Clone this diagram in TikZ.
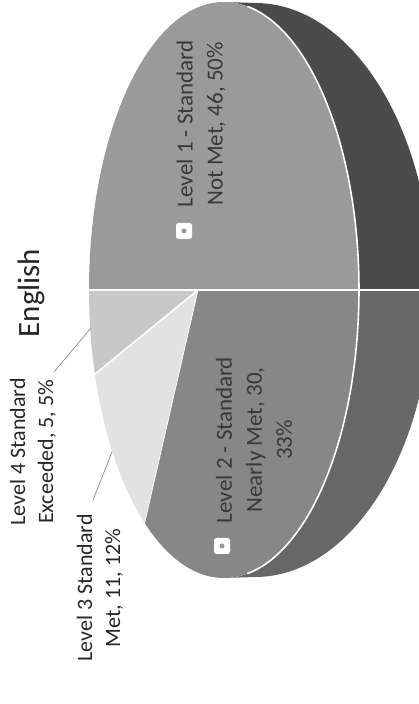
\documentclass[tikz,border=0pt]{standalone}
\usepackage{fontspec}
\setmainfont{Carlito}
\definecolor{faceA}{HTML}{9A9A9A}
\definecolor{faceB}{HTML}{878787}
\definecolor{faceC}{HTML}{E2E2E2}
\definecolor{faceD}{HTML}{C8C8C8}
\definecolor{sideA}{HTML}{4B4B4B}
\definecolor{sideB}{HTML}{676767}
\definecolor{labtext}{HTML}{383838}
\definecolor{outtext}{HTML}{262626}
\definecolor{leadcol}{HTML}{8C8C8C}
\tikzset{
  inlab/.style={rotate=90,align=center,text=labtext,font=\fontsize{23}{30}\selectfont,inner sep=0pt},
  outlab/.style={rotate=90,align=center,text=outtext,font=\fontsize{22}{28}\selectfont,inner sep=0pt},
  titlelab/.style={rotate=90,text=outtext,font=\fontsize{31}{34}\selectfont,inner sep=0pt},
  keybox/.style={fill=white,rounded corners=2.5pt,minimum size=16pt,inner sep=0pt,
    path picture={\fill[gray!80] ([shift={(-2.5pt,-2.5pt)}]path picture bounding box.center) rectangle ++(5pt,5pt);}},
  sep/.style={white,line width=1.6pt},
  leader/.style={leadcol,line width=0.7pt}
}
\begin{document}
\begin{tikzpicture}[x=1pt,y=1pt]
\useasboundingbox (0,0) rectangle (419,704);
% key points
\coordinate (A) at (198,414);
\coordinate (P0) at (359,414);
\coordinate (P180) at (89,414);
\coordinate (P197) at (94.9,329.8);
\coordinate (P234) at (144.6,181);
\coordinate (T) at (224,702);
\coordinate (B) at (224,126);
\coordinate (OT) at (255,701);
\coordinate (OR) at (432,414);
\coordinate (R80) at (247.4,697.6);
% side (depth)
\begin{scope}
  \clip (0,414) rectangle (440,710);
  \fill[sideA] (OT) arc[start angle=90,end angle=-90,x radius=177,y radius=287] -- (B)
     arc[start angle=-90,end angle=90,x radius=135,y radius=288] -- cycle;
\end{scope}
\begin{scope}
  \clip (0,0) rectangle (440,414);
  \fill[sideB] (OT) arc[start angle=90,end angle=-90,x radius=177,y radius=287] -- (B)
     arc[start angle=-90,end angle=90,x radius=135,y radius=288] -- cycle;
\end{scope}
% faces
\fill[faceA] (A) -- (P0) arc[start angle=0,end angle=180,x radius=135,y radius=288] -- cycle;
\fill[faceD] (A) -- (P180) arc[start angle=180,end angle=197,x radius=135,y radius=288] -- cycle;
\fill[faceC] (A) -- (P197) arc[start angle=197,end angle=234,x radius=135,y radius=288] -- cycle;
\fill[faceB] (A) -- (P234) arc[start angle=234,end angle=360,x radius=135,y radius=288] -- cycle;
% separators
\draw[sep] (R80) arc[start angle=80,end angle=-80,x radius=135,y radius=288];
\draw[sep] (P180) -- (A) -- (P0) -- (OR);
\draw[sep] (A) -- (P197);
\draw[sep,line width=0.8pt] (A) -- (P234);
% keys and inner labels
\node[keybox] (k1) at (184,473) {};
\node[inlab] (l1) at (201,580) {Level 1 - Standard\\Not Met, 46, 50\%};
\node[keybox] (k2) at (222,158) {};
\node[inlab] (l2) at (254,264) {Level 2 - Standard\\Nearly Met, 30,\\33\%};
% title
\node[titlelab] (title) at (31,411) {English};
% outer labels
\node[outlab] (l4) at (33,252) {Level 4 Standard\\Exceeded, 5, 5\%};
\node[outlab] (l3) at (100,116) {Level 3 Standard\\Met, 11, 12\%};
\coordinate (a4) at (54,332);
\coordinate (b4) at (91,376);
\coordinate (a3) at (93,204);
\coordinate (b3) at (112,252);
\draw[leader] (a4) -- (b4);
\draw[leader] (a3) -- (b3);
\end{tikzpicture}
\end{document}
